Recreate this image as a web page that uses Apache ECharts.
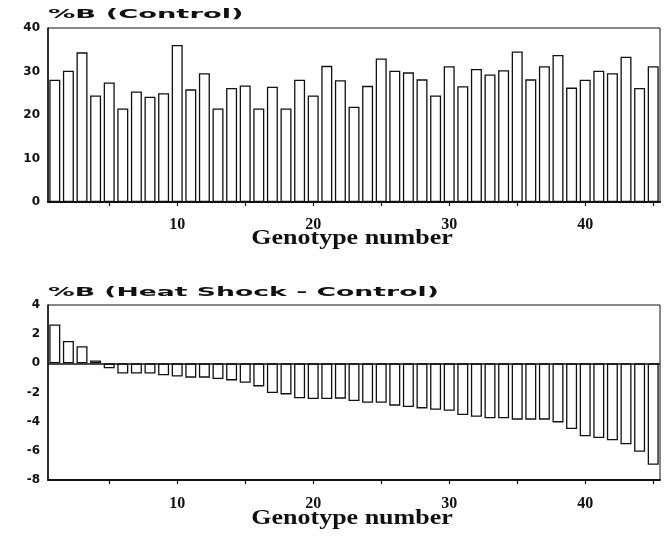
<!DOCTYPE html>
<html>
<head>
<meta charset="utf-8">
<script src="https://cdn.jsdelivr.net/npm/echarts@6/dist/echarts.min.js"></script>
<style>
html,body{margin:0;padding:0;background:#fff;}
#chart{width:666px;height:537px;}
</style>
</head>
<body>
<div id="chart"></div>
<script>
const genotypes = [1,2,3,4,5,6,7,8,9,10,11,12,13,14,15,16,17,18,19,20,21,22,23,24,25,26,27,28,29,30,31,32,33,34,35,36,37,38,39,40,41,42,43,44,45];
const controlValues = [28.1,30.2,34.4,24.5,27.5,21.5,25.4,24.2,25.0,36.1,25.9,29.6,21.5,26.2,26.8,21.5,26.5,21.5,28.1,24.5,31.3,28.0,21.9,26.7,33.0,30.2,29.8,28.2,24.5,31.2,26.6,30.6,29.3,30.3,34.6,28.2,31.2,33.8,26.3,28.1,30.2,29.6,33.4,26.2,31.2];
const diffValues = [2.67,1.53,1.17,0.2,-0.34,-0.7,-0.7,-0.7,-0.82,-0.91,-0.98,-0.98,-1.07,-1.17,-1.33,-1.58,-2.03,-2.13,-2.4,-2.45,-2.45,-2.42,-2.58,-2.7,-2.7,-2.9,-3.0,-3.09,-3.18,-3.25,-3.54,-3.66,-3.77,-3.77,-3.86,-3.86,-3.86,-4.05,-4.5,-5.0,-5.12,-5.28,-5.55,-6.06,-6.95];
const titleTop = '%B (Control)';
const titleBottom = '%B (Heat Shock - Control)';
const xAxisTitle = 'Genotype number';

const ink = '#111';
const chart = echarts.init(document.getElementById('chart'), null, {renderer: 'canvas'});

function catAxis(gridIndex, margin) {
  return {
    type: 'category',
    gridIndex: gridIndex,
    data: genotypes,
    boundaryGap: true,
    axisLine: {show: true, onZero: false, lineStyle: {color: ink, width: 2}},
    axisTick: {show: true, alignWithLabel: true, length: 4, lineStyle: {color: ink, width: 1.2},
      interval: function (i) { return (i + 1) % 5 === 0; }},
    axisLabel: {show: true, margin: margin, color: ink, fontFamily: '"Liberation Serif"', fontWeight: 'bold', fontSize: 16,
      interval: function (i) { return (i + 1) % 10 === 0; }},
    splitLine: {show: false}
  };
}
function valAxis(gridIndex, min, max, interval) {
  return {
    type: 'value',
    gridIndex: gridIndex,
    min: min, max: max, interval: interval,
    axisLine: {show: true, onZero: false, lineStyle: {color: ink, width: 1.5}},
    axisTick: {show: false},
    axisLabel: {show: true, margin: 8, color: ink, fontFamily: '"DejaVu Sans"', fontWeight: 'bold', fontSize: 12},
    splitLine: {show: false}
  };
}
const barStyle = {color: '#fff', borderColor: ink, borderWidth: 1.3};

chart.setOption({
  animation: false,
  backgroundColor: '#fff',
  grid: [
    {left: 48, top: 28, width: 612, height: 174, show: true, borderColor: ink, borderWidth: 1, backgroundColor: 'transparent'},
    {left: 48, top: 305, width: 612, height: 175, show: true, borderColor: ink, borderWidth: 1, backgroundColor: 'transparent'}
  ],
  xAxis: [catAxis(0, 15), catAxis(1, 16)],
  yAxis: [valAxis(0, 0, 40, 10), valAxis(1, -8, 4, 2)],
  series: [
    {type: 'bar', xAxisIndex: 0, yAxisIndex: 0, data: controlValues, barWidth: 11, itemStyle: barStyle},
    {type: 'bar', xAxisIndex: 1, yAxisIndex: 1, data: diffValues, barWidth: 11, itemStyle: barStyle,
      markLine: {silent: true, symbol: ['none', 'none'], label: {show: false},
        lineStyle: {color: ink, width: 1.5, type: 'solid'}, data: [{yAxis: 0}]}}
  ],
  graphic: [
    {type: 'text', x: 48, y: 15, scaleX: 2.1, style: {text: titleTop, x: 0, y: 0, align: 'left', verticalAlign: 'middle', fill: ink, font: 'bold 13px "DejaVu Sans"'}},
    {type: 'text', x: 48, y: 293, scaleX: 2.05, style: {text: titleBottom, x: 0, y: 0, align: 'left', verticalAlign: 'middle', fill: ink, font: 'bold 13px "DejaVu Sans"'}},
    {type: 'text', x: 352, y: 239, scaleX: 1.3, style: {text: xAxisTitle, x: 0, y: 0, align: 'center', verticalAlign: 'middle', fill: ink, font: 'bold 20px "Liberation Serif"'}},
    {type: 'text', x: 352, y: 519, scaleX: 1.3, style: {text: xAxisTitle, x: 0, y: 0, align: 'center', verticalAlign: 'middle', fill: ink, font: 'bold 20px "Liberation Serif"'}}
  ]
});
</script>
</body>
</html>
